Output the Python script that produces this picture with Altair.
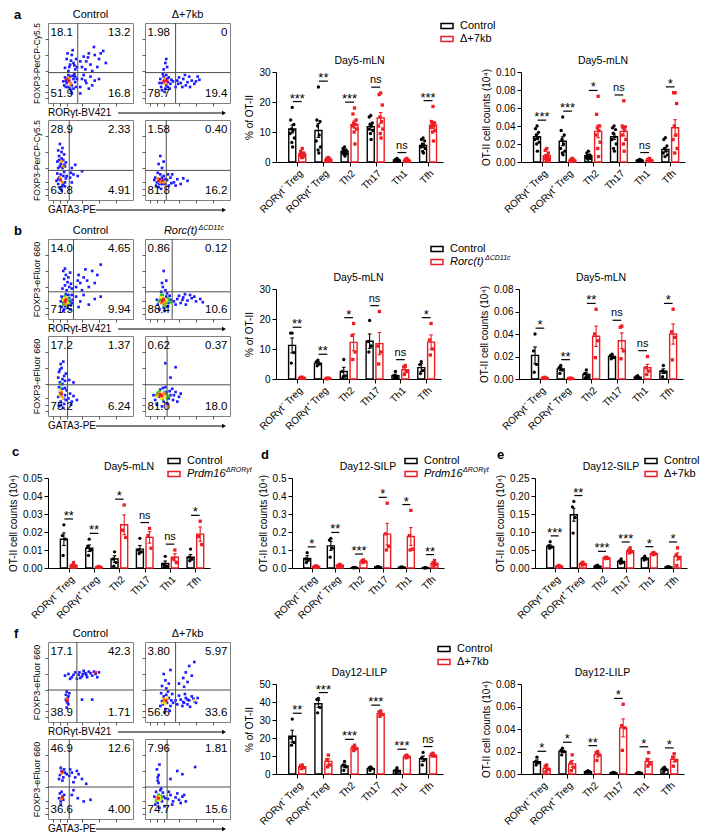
import json
import altair as alt
import pandas as pd

FONT = "Liberation Sans"
BLACK = "#000000"
RED = "#ee1d23"
GATE = "#4d4d4d"
HOT = ["#1c1cff", "#2fc42f", "#ffe81a", "#ff8a00", "#ff1414"]

CATS = ["RORγt⁻ Treg", "RORγt⁺ Treg", "Th2", "Th17", "Th1", "Tfh"]
GROUPS = ["ctrl", "ko"]

# ---------------- bar chart data ----------------
A1_CTRL_MEAN = [11.0, 10.5, 3.6, 11.8, 0.6, 5.5]
A1_CTRL_SEM = [1.3, 2.3, 0.4, 1.1, 0.1, 0.6]
A1_CTRL_DOTS = [[18.2, 14, 12.5, 11, 10.5, 9.5, 8, 6.5, 5],
                [25, 14, 13.5, 12, 9, 7, 5, 4, 3],
                [5, 4.5, 4, 3.8, 3.5, 3, 2.8, 2.5, 2],
                [15.5, 15, 13, 12.5, 12, 11, 10.5, 9.5, 7.5],
                [1.2, 0.9, 0.7, 0.6, 0.5, 0.4, 0.3, 0.3, 0.2],
                [8, 7.5, 7, 6, 5.5, 5, 4.5, 3.5, 3]]
A1_KO_MEAN = [2.7, 0.8, 12.5, 14.7, 0.5, 12.3]
A1_KO_SEM = [0.4, 0.2, 1.2, 1.8, 0.1, 1.1]
A1_KO_DOTS = [[4.5, 3.5, 3, 2.8, 2.5, 2.2, 2, 1.5, 1.5],
              [1.5, 1.2, 1, 0.8, 0.7, 0.5, 0.5, 0.3],
              [18, 16, 14, 13, 12.5, 12, 11, 10, 6],
              [23, 22.5, 19, 15, 13.5, 12, 11, 9.5, 8],
              [1.2, 0.8, 0.6, 0.5, 0.4, 0.3, 0.2],
              [18.5, 13.5, 13, 12.5, 12, 11.5, 10.5, 10, 7]]
A1_SIG = ["***", "**", "***", "ns", "ns", "***"]

A2_CTRL_MEAN = [0.028, 0.023, 0.007, 0.028, 0.002, 0.014]
A2_CTRL_SEM = [0.003, 0.005, 0.001, 0.003, 0.0005, 0.002]
A2_CTRL_DOTS = [[0.040, 0.037, 0.033, 0.030, 0.027, 0.025, 0.022, 0.020, 0.012],
                [0.050, 0.035, 0.030, 0.025, 0.020, 0.015, 0.012, 0.010, 0.008],
                [0.012, 0.010, 0.008, 0.007, 0.006, 0.005, 0.004, 0.003],
                [0.040, 0.038, 0.036, 0.032, 0.028, 0.025, 0.020, 0.015, 0.012],
                [0.003, 0.002, 0.002, 0.001, 0.001],
                [0.027, 0.025, 0.018, 0.015, 0.012, 0.010, 0.008, 0.006]]
A2_KO_MEAN = [0.007, 0.002, 0.034, 0.034, 0.002, 0.038]
A2_KO_SEM = [0.0015, 0.0005, 0.007, 0.005, 0.0005, 0.009]
A2_KO_DOTS = [[0.015, 0.013, 0.010, 0.007, 0.005, 0.004, 0.003, 0.002],
              [0.004, 0.003, 0.002, 0.002, 0.001, 0.001],
              [0.073, 0.053, 0.040, 0.038, 0.035, 0.030, 0.022, 0.015, 0.006],
              [0.068, 0.040, 0.039, 0.038, 0.035, 0.030, 0.025, 0.020, 0.012],
              [0.004, 0.003, 0.002, 0.001],
              [0.077, 0.077, 0.065, 0.040, 0.030, 0.025, 0.015, 0.010]]
A2_SIG = ["***", "***", "*", "ns", "ns", "*"]

B1_CTRL_MEAN = [11.2, 5.3, 2.5, 12.6, 1.1, 3.8]
B1_CTRL_SEM = [2.5, 0.5, 1.4, 2.4, 0.5, 1.3]
B1_CTRL_DOTS = [[15.3, 15.3, 8.8, 5.3], [6.3, 5.8, 5.0, 4.4], [6.5, 2.5, 1.0, 0.5],
                [19.5, 12.5, 11.0, 9.0], [2.5, 1.2, 0.5, 0.3], [5.8, 4.8, 2.8, 1.8]]
B1_KO_MEAN = [0.4, 0.2, 12.2, 11.8, 3.1, 12.3]
B1_KO_SEM = [0.1, 0.05, 2.8, 3.7, 0.8, 2.4]
B1_KO_DOTS = [[0.6, 0.5, 0.3, 0.2], [0.3, 0.2, 0.2, 0.1], [18.5, 14.5, 9.0, 6.5],
              [22.5, 11.0, 9.0, 5.0], [4.5, 4.0, 2.5, 1.5], [18.5, 13.0, 10.0, 8.0]]
B1_SIG = ["**", "**", "*", "ns", "ns", "*"]

B2_CTRL_MEAN = [0.021, 0.009, 0.004, 0.020, 0.0015, 0.007]
B2_CTRL_SEM = [0.0075, 0.0015, 0.0015, 0.001, 0.0006, 0.002]
B2_CTRL_DOTS = [[0.040, 0.025, 0.013, 0.006], [0.012, 0.010, 0.008, 0.005], [0.008, 0.005, 0.002, 0.001],
                [0.022, 0.021, 0.019, 0.018], [0.003, 0.002, 0.001, 0.0005], [0.012, 0.007, 0.006, 0.002]]
B2_KO_MEAN = [0.001, 0.0005, 0.038, 0.034, 0.010, 0.040]
B2_KO_SEM = [0.0003, 0.0002, 0.009, 0.007, 0.003, 0.009]
B2_KO_DOTS = [[0.0015, 0.001, 0.0008, 0.0005], [0.0008, 0.0005, 0.0004, 0.0003], [0.062, 0.040, 0.034, 0.019],
              [0.047, 0.046, 0.025, 0.018], [0.020, 0.010, 0.007, 0.004], [0.062, 0.042, 0.037, 0.017]]
B2_SIG = ["*", "**", "**", "ns", "ns", "*"]

C_CTRL_MEAN = [0.016, 0.011, 0.005, 0.0105, 0.0025, 0.006]
C_CTRL_SEM = [0.0035, 0.0018, 0.0018, 0.002, 0.0014, 0.0015]
C_CTRL_DOTS = [[0.024, 0.018, 0.016, 0.007], [0.016, 0.012, 0.010, 0.007], [0.009, 0.005, 0.003, 0.001],
               [0.0165, 0.010, 0.009, 0.008], [0.0065, 0.002, 0.001, 0.0005], [0.0105, 0.006, 0.005, 0.004]]
C_KO_MEAN = [0.0015, 0.0005, 0.024, 0.017, 0.006, 0.0188]
C_KO_SEM = [0.0005, 0.0002, 0.0055, 0.0032, 0.002, 0.004]
C_KO_DOTS = [[0.003, 0.0015, 0.001, 0.0005], [0.0008, 0.0005, 0.0003], [0.035, 0.021, 0.017],
             [0.022, 0.018, 0.011], [0.010, 0.005, 0.003], [0.026, 0.0175, 0.013]]
C_SIG = ["**", "**", "*", "ns", "ns", "*"]

D_CTRL_MEAN = [0.053, 0.123, 0.002, 0.006, 0.004, 0.001]
D_CTRL_SEM = [0.016, 0.025, 0.0005, 0.001, 0.001, 0.0003]
D_CTRL_DOTS = [[0.085, 0.050, 0.045, 0.030], [0.165, 0.155, 0.110, 0.060], [0.003, 0.002, 0.002, 0.001],
               [0.008, 0.006, 0.005, 0.005], [0.006, 0.004, 0.003, 0.002], [0.002, 0.001, 0.001, 0.0005]]
D_KO_MEAN = [0.008, 0.015, 0.037, 0.188, 0.175, 0.025]
D_KO_SEM = [0.002, 0.002, 0.003, 0.06, 0.05, 0.006]
D_KO_DOTS = [[0.012, 0.009, 0.006, 0.004], [0.020, 0.015, 0.012, 0.010], [0.045, 0.040, 0.035, 0.030],
             [0.360, 0.190, 0.120, 0.100], [0.320, 0.180, 0.105, 0.100], [0.042, 0.030, 0.020, 0.012]]
D_SIG = ["*", "**", "***", "*", "*", "**"]

E_CTRL_MEAN = [0.060, 0.148, 0.005, 0.018, 0.027, 0.003]
E_CTRL_SEM = [0.004, 0.018, 0.001, 0.003, 0.002, 0.0005]
E_CTRL_DOTS = [[0.073, 0.062, 0.058, 0.055], [0.185, 0.170, 0.140, 0.097], [0.008, 0.006, 0.004, 0.003],
               [0.025, 0.020, 0.015, 0.013], [0.033, 0.028, 0.025, 0.022], [0.004, 0.003, 0.002, 0.002]]
E_KO_MEAN = [0.005, 0.012, 0.028, 0.048, 0.040, 0.032]
E_KO_SEM = [0.001, 0.002, 0.001, 0.003, 0.001, 0.010]
E_KO_DOTS = [[0.007, 0.005, 0.004, 0.003], [0.016, 0.013, 0.010, 0.008], [0.030, 0.029, 0.027, 0.026],
             [0.056, 0.050, 0.045, 0.042], [0.043, 0.041, 0.039, 0.037], [0.056, 0.036, 0.027, 0.007]]
E_SIG = ["***", "**", "***", "***", "*", "*"]

F1_CTRL_MEAN = [21.0, 39.0, 4.5, 3.0, 2.0, 8.5]
F1_CTRL_SEM = [3.3, 1.9, 1.0, 0.5, 0.7, 1.5]
F1_CTRL_DOTS = [[30.5, 20.0, 17.5, 16.0], [42.0, 41.5, 37.0, 34.0], [7.0, 5.0, 4.0, 2.0],
                [4.0, 3.5, 3.0, 2.0], [3.5, 2.0, 1.5, 0.5], [12.0, 9.0, 8.0, 5.0]]
F1_KO_MEAN = [4.0, 7.0, 14.5, 33.5, 9.5, 10.5]
F1_KO_SEM = [0.4, 1.5, 0.7, 0.7, 0.3, 0.4]
F1_KO_DOTS = [[5.0, 4.5, 3.5, 3.0], [10.5, 8.0, 5.0, 4.0], [16.0, 15.0, 14.0, 13.0],
              [35.0, 34.5, 33.0, 32.0], [10.5, 10.0, 9.5, 9.0], [11.5, 11.0, 10.0, 10.0]]
F1_SIG = ["**", "***", "***", "***", "***", "ns"]

F2_CTRL_MEAN = [0.011, 0.020, 0.002, 0.001, 0.001, 0.004]
F2_CTRL_SEM = [0.0015, 0.001, 0.0005, 0.0003, 0.0003, 0.001]
F2_CTRL_DOTS = [[0.015, 0.011, 0.010, 0.008], [0.023, 0.021, 0.020, 0.017], [0.003, 0.002, 0.002, 0.001],
                [0.0015, 0.001, 0.001, 0.0007], [0.0015, 0.001, 0.001, 0.0005], [0.006, 0.005, 0.004, 0.002]]
F2_KO_MEAN = [0.005, 0.009, 0.017, 0.041, 0.011, 0.013]
F2_KO_SEM = [0.0013, 0.003, 0.002, 0.008, 0.0025, 0.0023]
F2_KO_DOTS = [[0.008, 0.007, 0.004, 0.002], [0.017, 0.010, 0.006, 0.003], [0.020, 0.019, 0.017, 0.012],
              [0.062, 0.043, 0.041, 0.021], [0.019, 0.013, 0.009, 0.007], [0.018, 0.015, 0.012, 0.007]]
F2_SIG = ["*", "*", "**", "*", "*", "*"]

# ---------------- flow cytometry data (0-100 display units) ----------------
A1_PTS = [(22,25),(25,28),(28,22),(30,30),(20,32),(26,18),(32,26),(24,35),(18,27),(29,34),(27,15),(33,20),
          (21,20),(31,36),(23,30),(26,33),(19,22),(34,30),(28,12),(24,20),(30,18),(21,28),(32,33),
          (25,45),(30,50),(22,55),(28,60),(32,42),(26,48),(20,44),(33,55),(29,66),(24,40),(31,47),(27,53),
          (23,62),(34,45),(40,45),(45,52),(50,48),(55,60),(60,55),(48,62),(42,58),(65,65),(58,45),(52,40),
          (68,50),(44,42),(38,52),(54,70),(62,62),(47,57),(40,30),(45,25),(50,33),(38,20),(55,28),(42,35),
          (48,18),(60,30),(38,12),(44,28),(52,22)]
A1_HOT = [(24,27,4),(27,25,3),(22,30,4),(26,22,3),(25,31,3)]
A2_PTS = [(20,25),(23,28),(25,22),(18,30),(22,33),(27,26),(24,18),(19,20),(28,32),(21,36),(26,30),(17,25),
          (30,24),(23,14),(29,18),(25,35),(31,29),(27,20),(20,16),(33,27),(22,42),(24,50),(26,45),(25,55),
          (38,28),(42,25),(45,30),(50,26),(55,28),(40,32),(48,22),(60,27),(52,33),(44,20),(58,24),(36,20),
          (64,29),(47,35),(53,20),(39,24),(62,33)]
A2_HOT = [(22,27,4),(24,24,3),(23,31,3),(26,28,4)]
A3_PTS = [(12,20),(15,25),(18,30),(14,15),(20,22),(11,33),(17,18),(13,28),(19,35),(16,12),(21,27),(10,24),
          (15,32),(18,20),(22,30),(12,26),(20,17),(12,40),(15,45),(18,50),(13,55),(16,60),(20,42),(11,48),
          (17,65),(14,70),(19,57),(12,62),(21,47),(16,52),(14,42),(19,44),(13,50),(17,40),(28,40),(32,44),
          (26,28),(30,32),(35,30),(28,22),(40,36),(27,34)]
A3_HOT = [(15,25,4),(17,22,3),(14,28,3),(18,42,3),(16,48,3)]
A4_PTS = [(14,22),(17,26),(20,20),(12,28),(16,16),(22,30),(18,32),(13,18),(21,24),(15,34),(19,14),(23,20),
          (11,25),(20,28),(24,26),(17,20),(26,25),(30,28),(34,22),(28,18),(38,26),(32,32),(42,20),(27,32),
          (45,27),(36,18),(50,24),(31,21),(16,45),(18,55),(20,40),(22,48)]
A4_HOT = [(16,24,4),(18,22,3),(15,27,3),(20,25,4),(22,22,3)]
B1_PTS = [(16,15),(18,20),(20,25),(22,28),(24,18),(26,22),(28,30),(17,27),(19,12),(23,14),(25,26),(27,17),
          (15,22),(21,31),(29,24),(18,10),(26,12),(22,20),(20,16),(24,30),(28,20),(16,28),(17,38),(20,42),
          (23,46),(19,50),(25,40),(21,55),(27,44),(18,60),(24,52),(22,36),(26,58),(20,63),(28,38),(33,40),
          (38,45),(42,52),(46,48),(52,60),(58,55),(48,40),(36,55),(62,68),(55,45),(40,36),(44,62),(35,48),
          (33,28),(38,22),(42,30),(48,18),(55,25),(62,28),(36,15)]
B1_HOT = [(17,25,1),(25,21,1),(23,16,1),(18,18,1),(24,25,1),(20,29,1),(19,26,2),(23,20,2),(18,23,2),
          (22,27,2),(22,24,3),(21,18,3),(19,21,3),(20,22,4),(21,24,4)]
B2_PTS = [(15,18),(18,25),(20,30),(22,14),(25,28),(28,20),(17,12),(30,24),(14,24),(26,32),(23,10),(29,29),
          (19,34),(24,36),(21,40),(27,16),(34,22),(38,25),(42,20),(45,27),(50,23),(55,26),(60,22),(65,25),
          (36,18),(40,29),(48,18),(53,30),(58,28),(68,21),(44,24),(47,31),(22,60),(25,48),(20,45)]
B2_HOT = [(21,30,1),(24,16,1),(16,22,1),(27,26,1),(30,21,1),(18,24,1),(26,20,1),(22,18,1),(19,30,1),
          (28,24,1),(18,27,2),(25,23,2),(20,27,2),(19,20,3),(23,19,3),(23,22,3),(20,22,4),(22,25,4),(21,24,4)]
B3_PTS = [(13,12),(15,18),(18,22),(20,26),(14,30),(17,34),(12,24),(19,15),(16,28),(21,20),(13,36),(18,10),
          (22,32),(15,14),(20,35),(24,22),(26,28),(28,18),(14,42),(17,46),(19,50),(13,55),(16,60),(20,44),
          (15,65),(18,68),(12,48),(21,53),(17,40),(14,58),(25,45),(30,42),(30,25),(34,20),(27,14)]
B3_HOT = [(15,35,1),(15,40,1),(14,31,2),(17,22,2),(14,26,2),(16,25,3),(16,30,3),(15,28,4)]
B4_PTS = [(12,20),(15,28),(18,33),(22,18),(25,30),(28,22),(30,26),(33,20),(36,30),(40,24),(14,14),(20,12),
          (26,15),(32,34),(38,18),(42,28),(10,26),(24,36),(34,26),(29,31),(17,24),(21,35),(24,66),(36,61),
          (30,48)]
B4_HOT = [(17,31,1),(25,27,1),(21,20,1),(28,25,1),(15,29,1),(23,30,1),(26,22,1),(13,26,1),(19,22,2),
          (14,24,2),(24,24,2),(21,23,2),(16,26,3),(22,28,3),(17,28,3),(18,27,4),(20,25,4),(19,26,4)]
F1_PTS = [(20,58),(24,60),(28,56),(32,62),(36,59),(40,57),(44,61),(48,63),(52,58),(56,60),(60,62),(38,55),
          (46,56),(42,64),(34,54),(50,61),(54,63),(26,54),(30,59),(58,56),(45,59),(37,62),(41,60),(22,26),
          (23,30),(21,34),(24,22),(22,18),(25,36),(23,24),(21,28),(24,32),(22,38),(40,28),(52,28)]
F1_HOT = [(23,27,4),(22,29,3),(56,62,4)]
F2_PTS = [(18,20),(20,26),(22,32),(24,16),(26,24),(28,30),(30,20),(32,35),(19,36),(23,12),(27,38),(31,27),
          (21,22),(25,34),(29,14),(33,24),(38,22),(42,28),(45,25),(48,30),(50,22),(52,27),(55,32),(58,26),
          (60,24),(44,20),(40,33),(53,19),(47,35),(57,29),(62,30),(36,27),(50,28),(46,24),(20,45),(24,52),
          (22,60),(28,48),(45,55),(48,62),(52,70),(40,48),(55,58),(58,75),(30,65),(46,44),(25,42),(50,50)]
F2_HOT = [(23,26,3),(24,23,2),(22,29,3),(25,27,4),(21,24,2),(58,27,2),(26,30,2)]
F3_PTS = [(14,55),(16,60),(18,52),(20,58),(15,64),(22,56),(13,50),(19,62),(17,48),(25,54),(28,58),(32,52),
          (36,56),(30,46),(40,50),(45,44),(26,62),(34,60),(15,22),(17,28),(14,32),(18,24),(16,34),(13,26),
          (19,30),(15,18),(28,30),(35,26),(42,22),(50,24),(30,36)]
F3_HOT = [(17,59,4),(16,57,3),(17,27,4),(16,25,3)]
F4_PTS = [(12,18),(14,24),(16,30),(18,36),(20,22),(22,28),(13,34),(17,14),(21,33),(15,20),(24,26),(19,38),
          (11,28),(23,16),(27,25),(30,30),(33,22),(36,27),(40,24),(44,28),(48,22),(28,34),(38,32),(46,30),
          (32,18),(42,20),(15,48),(16,55),(14,62),(17,68),(15,52),(16,45),(38,60),(59,65),(44,56),(30,50)]
F4_HOT = [(16,30,1),(13,22,1),(19,29,1),(20,26,1),(15,24,2),(17,28,2),(18,24,2),(17,24,2),(14,27,3),
          (15,26,3),(16,26,4)]

GATES = {"A1": (35, 38), "A2": (36, 38), "A3": (25, 37), "A4": (25, 37),
         "B1": (30, 34), "B2": (32, 34), "B3": (23, 39), "B4": (26, 39),
         "F1": (34, 40), "F2": (36, 40), "F3": (25, 40), "F4": (26, 40)}
QUADS = {"A1": ["18.1", "13.2", "51.9", "16.8"], "A2": ["1.98", "0", "78.7", "19.4"],
         "A3": ["28.9", "2.33", "63.8", "4.91"], "A4": ["1.58", "0.40", "81.8", "16.2"],
         "B1": ["14.0", "4.65", "71.5", "9.94"], "B2": ["0.86", "0.12", "88.4", "10.6"],
         "B3": ["17.2", "1.37", "75.2", "6.24"], "B4": ["0.62", "0.37", "81.0", "18.0"],
         "F1": ["17.1", "42.3", "38.9", "1.71"], "F2": ["3.80", "5.97", "56.6", "33.6"],
         "F3": ["46.9", "12.6", "36.6", "4.00"], "F4": ["7.96", "1.81", "74.7", "15.6"]}
FLOW_TICKS = [6, 14, 22, 40, 60, 80]

# ---------------- layout constants ----------------
FW, FH = 85, 80
BH = 90
OFF, CAP = 0.19, 0.07
JIT = [0.0, -0.06, 0.06, -0.03, 0.03, -0.08, 0.08, -0.015, 0.015]
ONE = pd.DataFrame({"k": [0]})


def txt(x, y, s, size=11, align="left", style="normal", weight="normal", baseline="middle"):
    return alt.Chart(ONE).mark_text(align=align, baseline=baseline, fontSize=size, font=FONT,
                                    fontStyle=style, fontWeight=weight, color=BLACK).encode(
        x=alt.value(x), y=alt.value(y), text=alt.value(s))


def legend_layers(x0, y0, label2, italic=False, sup=None, sup_dx=0, gap=13, size=11):
    layers = []
    for k, (col, lab) in enumerate(((BLACK, "Control"), (RED, label2))):
        y = y0 + k * gap
        layers.append(alt.Chart(ONE).mark_rect(fill="white", stroke=col, strokeWidth=1.5).encode(
            x=alt.value(x0), x2=alt.value(x0 + 12), y=alt.value(y - 2.5), y2=alt.value(y + 2.5)))
        layers.append(txt(x0 + 19, y, lab, size, style="italic" if (k == 1 and italic) else "normal"))
    if sup:
        layers.append(txt(x0 + 19 + sup_dx, y0 + gap - 4, sup, 7, style="italic"))
    return layers


def bar_chart(cm, cs, cd, km, ks, kd, sig, ymax, yticks, yfmt, ytitle, title, width, extra=()):
    bars, dots, sigs = [], [], []
    for i in range(6):
        top = 0
        for g, m, s, pts, off in (("ctrl", cm[i], cs[i], cd[i], -OFF), ("ko", km[i], ks[i], kd[i], OFF)):
            c = i + off
            bars.append({"c": c, "m": m, "lo": max(m - s, 0), "hi": m + s, "l": c - CAP, "r": c + CAP, "g": g})
            for j, v in enumerate(pts):
                dots.append({"c": c + JIT[j % len(JIT)], "v": v, "g": g})
            top = max(top, m + s, max(pts))
        sigs.append({"c": i, "l": i - 0.17, "r": i + 0.17, "y": top + 0.065 * ymax, "t": sig[i],
                     "ns": sig[i] == "ns"})
    bdf, ddf, sdf = pd.DataFrame(bars), pd.DataFrame(dots), pd.DataFrame(sigs)

    xsc = alt.Scale(domain=[-0.62, 5.38], nice=False, zero=False)
    xax = alt.Axis(values=list(range(6)), labelExpr=json.dumps(CATS, ensure_ascii=False) + "[datum.value]",
                   labelAngle=-45, labelOverlap=False, title=None, tickSize=4, labelFontSize=10,
                   labelPadding=2, grid=False)
    ysc = alt.Scale(domain=[0, ymax], nice=False, zero=True)
    yax = alt.Axis(values=yticks, format=yfmt, title=ytitle, tickSize=4, grid=False, labelFontSize=10,
                   titleFontSize=10, titlePadding=4, labelPadding=2, labelOverlap=False)
    X = lambda f: alt.X(f"{f}:Q", scale=xsc, axis=xax)
    Y = lambda f: alt.Y(f"{f}:Q", scale=ysc, axis=yax)
    gsc = alt.Scale(domain=GROUPS, range=[BLACK, RED])
    col = alt.Color("g:N", scale=gsc, legend=None)

    bar = alt.Chart(bdf).mark_bar(size=7, fill="white", strokeWidth=1.4).encode(
        x=X("c"), y=Y("m"), stroke=alt.Stroke("g:N", scale=gsc, legend=None))
    err = alt.Chart(bdf).mark_rule(strokeWidth=1.1).encode(x=X("c"), y=Y("lo"), y2="hi:Q", color=col)
    caph = alt.Chart(bdf).mark_rule(strokeWidth=1.1).encode(x=X("l"), x2="r:Q", y=Y("hi"), color=col)
    capl = alt.Chart(bdf).mark_rule(strokeWidth=1.1).encode(x=X("l"), x2="r:Q", y=Y("lo"), color=col)
    pts = alt.Chart(ddf).mark_point(filled=True, size=11, opacity=1).encode(
        x=X("c"), y=Y("v"), color=col,
        shape=alt.Shape("g:N", scale=alt.Scale(domain=GROUPS, range=["circle", "square"]), legend=None))
    sline = alt.Chart(sdf).mark_rule(strokeWidth=1.2, color=BLACK).encode(x=X("l"), x2="r:Q", y=Y("y"))
    stars = alt.Chart(sdf).transform_filter("!datum.ns").mark_text(
        fontSize=13, baseline="alphabetic", dy=1, font=FONT, color=BLACK).encode(x=X("c"), y=Y("y"), text="t:N")
    ns = alt.Chart(sdf).transform_filter("datum.ns").mark_text(
        fontSize=11, baseline="alphabetic", dy=-4, font=FONT, color=BLACK).encode(x=X("c"), y=Y("y"), text="t:N")
    ttl = txt(width / 2, -11, title, 10.5, align="center")
    return alt.layer(bar, err, caph, capl, pts, sline, stars, ns, ttl, *extra).properties(width=width, height=BH)


def flow_panel(key, pts, hot, title=None, sup=None, ytitle=None, ysize=9, letter=None):
    d = pd.DataFrame([(x, y, 0) for x, y in pts] + list(hot), columns=["x", "y", "lvl"])
    sc = alt.Scale(domain=[0, 100], nice=False, zero=False)
    xax = alt.Axis(title=None, labels=False, domain=False, tickSize=3, values=FLOW_TICKS,
                   tickColor="#333333", tickWidth=0.8, grid=False)
    yax = alt.Axis(title=ytitle, labels=False, domain=False, tickSize=3, values=FLOW_TICKS,
                   tickColor="#333333", tickWidth=0.8, grid=False, titleFontSize=ysize, titlePadding=3)
    X = lambda f: alt.X(f"{f}:Q", scale=sc, axis=xax)
    Y = lambda f: alt.Y(f"{f}:Q", scale=sc, axis=yax)
    layers = []
    for k in range(5):
        sub = d[d["lvl"] == k]
        if len(sub):
            layers.append(alt.Chart(sub).mark_square(size=7, opacity=1, color=HOT[k]).encode(x=X("x"), y=Y("y")))
    g = pd.DataFrame({"gx": [GATES[key][0]], "gy": [GATES[key][1]]})
    layers.append(alt.Chart(g).mark_rule(color=GATE, strokeWidth=1).encode(x=X("gx")))
    layers.append(alt.Chart(g).mark_rule(color=GATE, strokeWidth=1).encode(y=Y("gy")))
    q = pd.DataFrame({"x": [3, 97, 3, 97], "y": [88, 88, 11, 11], "t": QUADS[key], "a": ["l", "r", "l", "r"]})
    for a, al in (("l", "left"), ("r", "right")):
        layers.append(alt.Chart(q).transform_filter(f"datum.a == '{a}'").mark_text(
            align=al, baseline="middle", fontSize=11.5, font=FONT, color=BLACK).encode(
            x=X("x"), y=Y("y"), text="t:N"))
    if letter:
        layers.append(txt(-34, -8, letter, 13, weight="bold"))
    if title:
        if sup:
            layers.append(txt(FW / 2 + 10, -8, title, 11, align="right", style="italic"))
            layers.append(txt(FW / 2 + 11, -11, sup, 7, style="italic"))
        else:
            layers.append(txt(FW / 2, -8, title, 11, align="center"))
    return alt.layer(*layers).properties(width=FW, height=FH,
                                         view=alt.ViewBackground(stroke="#808080", strokeWidth=1))


def strip(label, start):
    width = 2 * FW + 10
    r = alt.Chart(ONE).mark_rule(color=BLACK, strokeWidth=1).encode(
        x=alt.value(start), x2=alt.value(width - 4), y=alt.value(5))
    h = alt.Chart(ONE).mark_point(shape="triangle-right", filled=True, size=22, color=BLACK, opacity=1).encode(
        x=alt.value(width - 4), y=alt.value(5))
    return alt.layer(txt(0, 5, label, 10), r, h).properties(width=width, height=9)


def flow_block(prefix, ytitle, ysize, letter, t2, sup2=None):
    p = {k: globals()[f"{prefix}{k}_PTS"] for k in "1234"}
    hh = {k: globals()[f"{prefix}{k}_HOT"] for k in "1234"}
    p1 = flow_panel(prefix + "1", p["1"], hh["1"], title="Control", ytitle=ytitle, ysize=ysize, letter=letter)
    p2 = flow_panel(prefix + "2", p["2"], hh["2"], title=t2, sup=sup2)
    p3 = flow_panel(prefix + "3", p["3"], hh["3"], ytitle=ytitle, ysize=ysize)
    p4 = flow_panel(prefix + "4", p["4"], hh["4"])
    return alt.vconcat(alt.hconcat(p1, p2, spacing=7), strip("RORγt-BV421", 70),
                       alt.hconcat(p3, p4, spacing=7), strip("GATA3-PE", 48), spacing=1)


def legend_chart(layers, h):
    return alt.layer(*layers).properties(width=200, height=h)


CNT = "OT-II cell counts (10⁴)"
T30 = [0, 10, 20, 30]
T50 = [0, 10, 20, 30, 40, 50]
T08 = [0, 0.02, 0.04, 0.06, 0.08]
T10 = [0, 0.02, 0.04, 0.06, 0.08, 0.10]

# ---------------- row a ----------------
bar_a1 = bar_chart(A1_CTRL_MEAN, A1_CTRL_SEM, A1_CTRL_DOTS, A1_KO_MEAN, A1_KO_SEM, A1_KO_DOTS, A1_SIG,
                   30, T30, "d", "% of OT-II", "Day5-mLN", 167)
bar_a2 = bar_chart(A2_CTRL_MEAN, A2_CTRL_SEM, A2_CTRL_DOTS, A2_KO_MEAN, A2_KO_SEM, A2_KO_DOTS, A2_SIG,
                   0.10, T10, ".2f", CNT, "Day5-mLN", 164)
row_a = alt.hconcat(
    flow_block("A", "FOXP3-PerCP-Cy5.5", 8.5, "a", "Δ+7kb"),
    alt.vconcat(legend_chart(legend_layers(165, 3, "Δ+7kb"), 30),
                alt.hconcat(bar_a1, bar_a2, spacing=38), spacing=3),
    spacing=13)

# ---------------- row b ----------------
bar_b1 = bar_chart(B1_CTRL_MEAN, B1_CTRL_SEM, B1_CTRL_DOTS, B1_KO_MEAN, B1_KO_SEM, B1_KO_DOTS, B1_SIG,
                   30, T30, "d", "% of OT-II", "Day5-mLN", 165)
bar_b2 = bar_chart(B2_CTRL_MEAN, B2_CTRL_SEM, B2_CTRL_DOTS, B2_KO_MEAN, B2_KO_SEM, B2_KO_DOTS, B2_SIG,
                   0.08, T08, ".2f", CNT, "Day5-mLN", 164)
row_b = alt.hconcat(
    flow_block("B", "FOXP3-eFluor 660", 9, "b", "Rorc(t)", sup2="ΔCD11c"),
    alt.vconcat(legend_chart(legend_layers(155, 10, "Rorc(t)", italic=True, sup="ΔCD11c", sup_dx=35), 30),
                alt.hconcat(bar_b1, bar_b2, spacing=38), spacing=4),
    spacing=13)

# ---------------- row c, d, e ----------------
bar_c = bar_chart(C_CTRL_MEAN, C_CTRL_SEM, C_CTRL_DOTS, C_KO_MEAN, C_KO_SEM, C_KO_DOTS, C_SIG,
                  0.05, [0, 0.01, 0.02, 0.03, 0.04, 0.05], ".2f", CNT, "Day5-mLN", 162,
                  extra=legend_layers(120, -17, "Prdm16", italic=True, sup="ΔRORγt", sup_dx=39)
                  + [txt(-36, -26, "c", 13, weight="bold")])
bar_d = bar_chart(D_CTRL_MEAN, D_CTRL_SEM, D_CTRL_DOTS, D_KO_MEAN, D_KO_SEM, D_KO_DOTS, D_SIG,
                  0.5, [0, 0.1, 0.2, 0.3, 0.4, 0.5], ".1f", CNT, "Day12-SILP", 152,
                  extra=legend_layers(113, -17, "Prdm16", italic=True, sup="ΔRORγt", sup_dx=39)
                  + [txt(-31, -23, "d", 13, weight="bold")])
bar_e = bar_chart(E_CTRL_MEAN, E_CTRL_SEM, E_CTRL_DOTS, E_KO_MEAN, E_KO_SEM, E_KO_DOTS, E_SIG,
                  0.25, [0, 0.05, 0.10, 0.15, 0.20, 0.25], ".2f", CNT, "Day12-SILP", 152,
                  extra=legend_layers(110, -17, "Δ+7kb") + [txt(-38, -23, "e", 13, weight="bold")])
row_cde = alt.hconcat(bar_c, bar_d, bar_e, spacing=6)

# ---------------- row f ----------------
bar_f1 = bar_chart(F1_CTRL_MEAN, F1_CTRL_SEM, F1_CTRL_DOTS, F1_KO_MEAN, F1_KO_SEM, F1_KO_DOTS, F1_SIG,
                   50, T50, "d", "% of OT-II", "Day12-LILP", 167)
bar_f2 = bar_chart(F2_CTRL_MEAN, F2_CTRL_SEM, F2_CTRL_DOTS, F2_KO_MEAN, F2_KO_SEM, F2_KO_DOTS, F2_SIG,
                   0.08, T08, ".2f", CNT, "Day12-LILP", 163)
row_f = alt.hconcat(
    flow_block("F", "FOXP3-eFluor 660", 9, "f", "Δ+7kb"),
    alt.vconcat(legend_chart(legend_layers(162, 7, "Δ+7kb"), 26),
                alt.hconcat(bar_f1, bar_f2, spacing=38), spacing=0),
    spacing=13)

chart = alt.vconcat(
    alt.vconcat(alt.vconcat(row_a, row_b, spacing=8), row_cde, spacing=14),
    row_f, spacing=6
).properties(padding=0).configure_view(stroke=None).configure_axis(
    labelFont=FONT, titleFont=FONT, labelColor=BLACK, titleColor=BLACK, titleFontWeight="normal",
    domainColor=BLACK, tickColor=BLACK, grid=False
).configure_text(font=FONT, color=BLACK)

chart.save("out.html", embed_options={"renderer": "svg", "actions": False})
